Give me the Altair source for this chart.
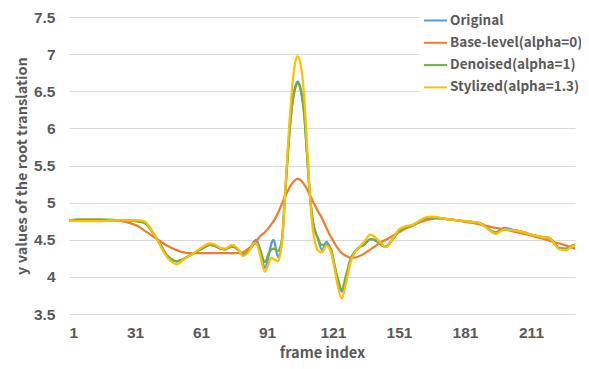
import altair as alt
import pandas as pd

frames = [
    1, 5, 10, 15, 20, 25, 28, 31, 33, 35,
    37, 39, 41, 43, 45, 47, 50, 53, 56, 59,
    62, 65, 67, 70, 72, 75, 78, 80, 83, 85,
    86, 88, 90, 92, 93, 94, 96, 97, 98, 99,
    100, 101, 102, 103, 104, 105, 106, 107, 108, 109,
    110, 111, 112, 113, 114, 116, 118, 120, 122, 123,
    125, 127, 129, 131, 133, 135, 138, 141, 143, 145,
    148, 151, 154, 157, 160, 163, 166, 169, 172, 175,
    178, 181, 184, 187, 190, 193, 195, 197, 199, 202,
    205, 208, 211, 214, 217, 219, 221, 224, 227, 229, 231,
]

original = [
    4.76, 4.76, 4.76, 4.76, 4.76, 4.76, 4.76, 4.76, 4.75, 4.74,
    4.69, 4.60, 4.51, 4.41, 4.31, 4.25, 4.21, 4.24, 4.29, 4.34,
    4.39, 4.43, 4.42, 4.38, 4.37, 4.41, 4.36, 4.30, 4.37, 4.47,
    4.50, 4.36, 4.12, 4.32, 4.45, 4.50, 4.27, 4.34, 4.55, 5.00,
    5.45, 5.88, 6.22, 6.45, 6.58, 6.63, 6.57, 6.42, 6.17, 5.75,
    5.30, 4.95, 4.72, 4.60, 4.53, 4.36, 4.47, 4.36, 4.10, 3.97,
    3.80, 4.00, 4.24, 4.34, 4.40, 4.43, 4.51, 4.48, 4.43, 4.41,
    4.50, 4.62, 4.67, 4.69, 4.74, 4.79, 4.80, 4.79, 4.78, 4.77,
    4.76, 4.75, 4.74, 4.73, 4.69, 4.62, 4.60, 4.63, 4.66, 4.64,
    4.62, 4.60, 4.57, 4.55, 4.53, 4.53, 4.48, 4.39, 4.38, 4.41, 4.43,
]

base_level = [
    4.76, 4.77, 4.77, 4.77, 4.76, 4.75, 4.73, 4.70, 4.67, 4.63,
    4.59, 4.55, 4.51, 4.47, 4.43, 4.40, 4.36, 4.33, 4.32, 4.32,
    4.32, 4.32, 4.32, 4.32, 4.32, 4.32, 4.32, 4.33, 4.39, 4.45,
    4.48, 4.55, 4.60, 4.67, 4.71, 4.75, 4.86, 4.93, 5.00, 5.07,
    5.13, 5.19, 5.24, 5.28, 5.31, 5.32, 5.31, 5.28, 5.24, 5.19,
    5.13, 5.07, 5.01, 4.95, 4.89, 4.79, 4.66, 4.54, 4.44, 4.39,
    4.32, 4.28, 4.26, 4.26, 4.28, 4.31, 4.37, 4.43, 4.47, 4.50,
    4.55, 4.60, 4.65, 4.69, 4.73, 4.76, 4.78, 4.79, 4.78, 4.77,
    4.76, 4.74, 4.73, 4.71, 4.69, 4.67, 4.66, 4.65, 4.64, 4.62,
    4.60, 4.58, 4.56, 4.53, 4.51, 4.49, 4.47, 4.45, 4.42, 4.40, 4.38,
]

denoised = [
    4.76, 4.77, 4.77, 4.77, 4.77, 4.76, 4.76, 4.75, 4.74, 4.73,
    4.68, 4.60, 4.51, 4.41, 4.31, 4.25, 4.21, 4.24, 4.29, 4.34,
    4.39, 4.43, 4.42, 4.38, 4.37, 4.41, 4.36, 4.30, 4.36, 4.44,
    4.45, 4.35, 4.20, 4.33, 4.37, 4.38, 4.35, 4.40, 4.55, 5.00,
    5.45, 5.86, 6.20, 6.42, 6.56, 6.61, 6.55, 6.40, 6.15, 5.72,
    5.30, 4.95, 4.72, 4.60, 4.53, 4.43, 4.43, 4.38, 4.12, 4.00,
    3.83, 4.03, 4.24, 4.34, 4.40, 4.43, 4.51, 4.48, 4.43, 4.41,
    4.50, 4.62, 4.67, 4.69, 4.74, 4.79, 4.80, 4.79, 4.78, 4.77,
    4.76, 4.75, 4.74, 4.73, 4.68, 4.61, 4.58, 4.62, 4.64, 4.63,
    4.62, 4.60, 4.57, 4.55, 4.53, 4.53, 4.47, 4.38, 4.37, 4.41, 4.43,
]

stylized = [
    4.76, 4.75, 4.75, 4.75, 4.76, 4.76, 4.76, 4.76, 4.76, 4.75,
    4.70, 4.61, 4.51, 4.39, 4.29, 4.22, 4.17, 4.23, 4.29, 4.35,
    4.41, 4.45, 4.44, 4.39, 4.38, 4.43, 4.37, 4.28, 4.35, 4.45,
    4.45, 4.28, 4.07, 4.20, 4.26, 4.24, 4.21, 4.30, 4.52, 5.00,
    5.50, 6.00, 6.40, 6.72, 6.91, 6.97, 6.90, 6.72, 6.38, 5.88,
    5.35, 4.90, 4.60, 4.45, 4.36, 4.33, 4.42, 4.34, 4.07, 3.90,
    3.71, 3.93, 4.20, 4.33, 4.40, 4.47, 4.57, 4.51, 4.45, 4.40,
    4.51, 4.64, 4.68, 4.70, 4.75, 4.80, 4.81, 4.80, 4.78, 4.77,
    4.76, 4.75, 4.74, 4.73, 4.68, 4.61, 4.58, 4.61, 4.64, 4.63,
    4.62, 4.60, 4.57, 4.55, 4.53, 4.53, 4.47, 4.37, 4.36, 4.40, 4.43,
]

series_names = ["Original", "Base-level(alpha=0)", "Denoised(alpha=1)", "Stylized(alpha=1.3)"]
series_colors = ["#5B9BD5", "#ED7D31", "#70AD47", "#FFC000"]
x_ticks = [1, 31, 61, 91, 121, 151, 181, 211]
y_ticks = [3.5, 4, 4.5, 5, 5.5, 6, 6.5, 7, 7.5]

rows = []
for name, vals in zip(series_names, [original, base_level, denoised, stylized]):
    for f, v in zip(frames, vals):
        rows.append({"frame": f, "value": v, "series": name})
df = pd.DataFrame(rows)

FONT = "Noto Sans CJK KR"
TICKFONT = "Liberation Sans"
TEXT = "#595959"

x_enc = alt.X(
    "frame:Q",
    scale=alt.Scale(domain=[1, 231], nice=False, zero=False),
    axis=alt.Axis(
        values=x_ticks, title="frame index", grid=False, domain=False, ticks=False,
        labelPadding=11, labelFont=TICKFONT, labelFontSize=15.5, labelFontWeight="bold",
        labelColor=TEXT, titleFont=FONT, titleFontSize=14.6, titleFontWeight="bold",
        titleColor=TEXT, titleY=43.5, titleBaseline="alphabetic",
    ),
)
y_enc = alt.Y(
    "value:Q",
    scale=alt.Scale(domain=[3.5, 7.5], nice=False, zero=False),
    axis=alt.Axis(
        values=y_ticks, format="~f", title="y values of the root translation",
        grid=True, gridColor="#D9D9D9", gridWidth=1, domain=False, ticks=False,
        labelPadding=14, labelFont=TICKFONT, labelFontSize=15.5, labelFontWeight="bold",
        labelColor=TEXT, titleFont=FONT, titleFontSize=14.5, titleFontWeight="bold",
        titleColor=TEXT, titleX=-47, titleY=148.5, titleBaseline="middle",
        titleAlign="center", titleAngle=270,
    ),
)
color_enc = alt.Color(
    "series:N",
    scale=alt.Scale(domain=series_names, range=series_colors),
    legend=alt.Legend(
        title=None, orient="none", legendX=350, legendY=-13,
        symbolType="stroke", symbolSize=529, symbolStrokeWidth=2,
        labelFont=FONT, labelFontSize=13.5, labelFontWeight="bold", labelColor=TEXT,
        labelOffset=2, rowPadding=3.3, fillColor="white", padding=4, labelLimit=300,
    ),
)

layers = []
for name in series_names:
    layers.append(
        alt.Chart(df)
        .transform_filter(alt.datum.series == name)
        .mark_line(interpolate="monotone", strokeWidth=2.25)
        .encode(x=x_enc, y=y_enc, color=color_enc)
    )

chart = (
    alt.layer(*layers)
    .properties(
        width=506, height=297,
        autosize=alt.AutoSizeParams(type="none"),
        padding={"left": 61, "top": 9, "right": 6, "bottom": 48},
        background="white",
    )
    .configure_view(strokeWidth=0)
)

chart.save("out.html", embed_options={"renderer": "svg", "actions": False})
